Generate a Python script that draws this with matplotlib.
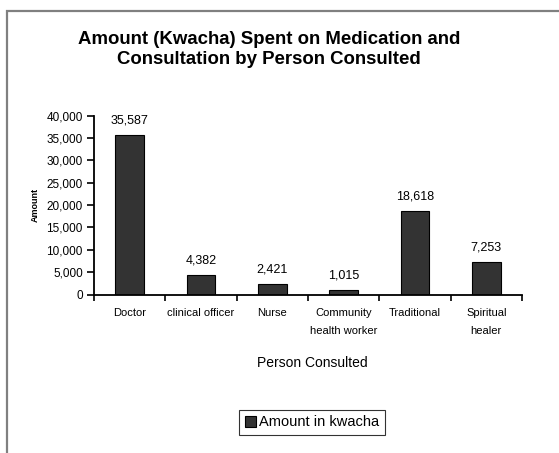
import matplotlib
matplotlib.use('Agg')
import matplotlib.pyplot as plt
from matplotlib.patches import Rectangle
from matplotlib.ticker import FuncFormatter

plt.rcParams['font.family'] = ['Liberation Sans', 'DejaVu Sans']

#                   Data

persons = ['Doctor', 'clinical officer', 'Nurse', 'Community\nhealth worker',
           'Traditional', 'Spiritual\nhealer']
amounts = [35587, 4382, 2421, 1015, 18618, 7253]
y_ticks = [0, 5000, 10000, 15000, 20000, 25000, 30000, 35000, 40000]

W, H = 559, 453

#                   Plot

fig = plt.figure(figsize=(W / 100, H / 100), dpi=100)
fig.patch.set_facecolor('white')

# chart area border (Excel style, runs off the right/bottom edge)
fig.patches.append(Rectangle((7 / W, -0.05), 1.1, 1 - 11 / H + 0.05,
                             transform=fig.transFigure, fill=False,
                             edgecolor='#808080', linewidth=1.6))

ax = fig.add_axes([94 / W, 1 - 294.5 / H, (522 - 94) / W, (294.5 - 115.5) / H])
x = list(range(len(persons)))
bars = ax.bar(x, amounts, width=0.4, color='#333333', edgecolor='black',
              linewidth=0.8, label='Amount in kwacha', zorder=2)

for xi, v in zip(x, amounts):
    ax.annotate(f'{v:,}', (xi, v), xytext=(0, 6), textcoords='offset points',
                ha='center', va='bottom', fontsize=9)

ax.set_xlim(-0.5, len(persons) - 0.5)
ax.set_ylim(0, 40000)
ax.set_yticks(y_ticks)
ax.yaxis.set_major_formatter(FuncFormatter(lambda v, p: f'{int(v):,}'))
ax.set_xticks([i - 0.5 for i in range(len(persons) + 1)])
ax.set_xticklabels([])
ax.set_xticks(x, minor=True)
ax.set_xticklabels(persons, minor=True, fontsize=8, linespacing=1.9)
ax.tick_params(axis='x', which='minor', length=0, pad=10)
ax.tick_params(axis='x', which='major', direction='out', length=4, width=1.2)
ax.tick_params(axis='y', direction='out', length=5, width=1.2, labelsize=8.5, pad=3)

for side in ['top', 'right']:
    ax.spines[side].set_visible(False)
for side in ['left', 'bottom']:
    ax.spines[side].set_linewidth(1.3)

ax.set_ylabel('Amount', fontsize=6.5, fontweight='bold', labelpad=5)

fig.text(312 / W, 1 - 363 / H, 'Person Consulted', ha='center', va='center',
         fontsize=10)
fig.text(269 / W, 1 - 31.5 / H,
         'Amount (Kwacha) Spent on Medication and\nConsultation by Person Consulted',
         ha='center', va='top', fontsize=13.4, fontweight='bold', linespacing=1.2)

leg = fig.legend(handles=[bars], labels=['Amount in kwacha'], loc='center',
                 bbox_to_anchor=(312 / W, 1 - 422.5 / H), fontsize=10.5,
                 frameon=True, fancybox=False, handlelength=0.75, handleheight=0.75,
                 handletextpad=0.25, borderpad=0.4, borderaxespad=0)
leg.get_frame().set_edgecolor('black')
leg.get_frame().set_linewidth(0.8)

fig.savefig('out.png', dpi=100)
